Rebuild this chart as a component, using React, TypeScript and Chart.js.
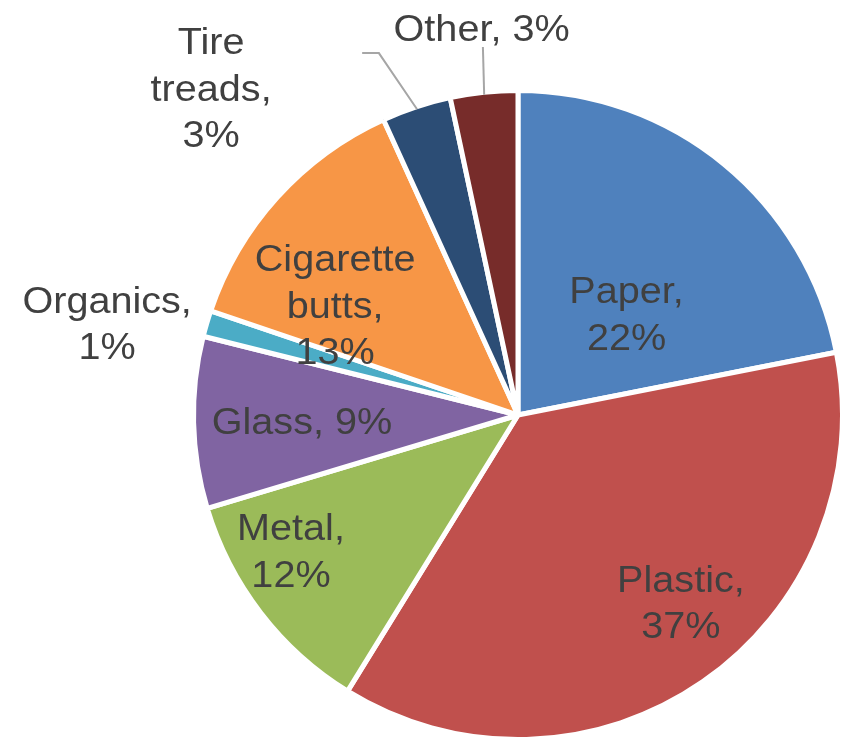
import { useEffect, useRef } from "react";
import { Chart, registerables } from "chart.js";

Chart.register(...registerables);

// ---- data ----
const categories = ["Paper", "Plastic", "Metal", "Glass", "Organics", "Cigarette butts", "Tire treads", "Other"];
const shares = [21.9, 36.9, 11.55, 8.55, 1.3, 13.0, 3.45, 3.35];
const sliceColors = ["#4F81BD", "#C0504D", "#9BBB59", "#8064A2", "#4BACC6", "#F79646", "#2C4D75", "#772C2A"];

// ---- label layout (style): offsets in units of the pie radius, from the pie centre ----
type LabelLayout = {
  dx: number;
  dy: number;
  wrap: "one" | "two" | "words";
  leader?: [number, number][];
};
const labelLayouts: LabelLayout[] = [
  { dx: 0.337, dy: -0.315, wrap: "two" },
  { dx: 0.506, dy: 0.581, wrap: "two" },
  { dx: -0.705, dy: 0.421, wrap: "two" },
  { dx: -0.671, dy: 0.019, wrap: "one" },
  { dx: -1.276, dy: -0.286, wrap: "two" },
  { dx: -0.568, dy: -0.342, wrap: "words" },
  { dx: -0.953, dy: -1.016, wrap: "words", leader: [[-0.484, -1.124], [-0.432, -1.124]] },
  { dx: -0.113, dy: -1.203, wrap: "one", leader: [[-0.109, -1.143]] },
];

const BORDER = 5;
const FONT_SIZE = 36;
const LINE_H = 46.5;
const X_STRETCH = 1.1;

function buildLines(name: string, pct: number, wrap: LabelLayout["wrap"]): string[] {
  const p = `${pct}%`;
  if (wrap === "one") return [`${name}, ${p}`];
  if (wrap === "two") return [`${name},`, p];
  const words = name.split(" ");
  words[words.length - 1] = words[words.length - 1] + ",";
  return [...words, p];
}

const sliceLabelPlugin = {
  id: "sliceLabels",
  afterDatasetsDraw(chart: any) {
    const meta = chart.getDatasetMeta(0);
    const ctx: CanvasRenderingContext2D = chart.ctx;
    const values: number[] = chart.data.datasets[0].data;
    const total = values.reduce((a, b) => a + b, 0);
    meta.data.forEach((arc: any, i: number) => {
      const { x, y, outerRadius, startAngle, endAngle } = arc.getProps(
        ["x", "y", "outerRadius", "startAngle", "endAngle"],
        true
      );
      const r = outerRadius - BORDER / 2;
      const lay = labelLayouts[i];
      // leader line
      if (lay.leader) {
        const mid = (startAngle + endAngle) / 2;
        ctx.save();
        ctx.strokeStyle = "#A6A6A6";
        ctx.lineWidth = 2;
        ctx.beginPath();
        lay.leader.forEach(([px, py], k) => {
          const X = x + px * r;
          const Y = y + py * r;
          if (k === 0) ctx.moveTo(X, Y);
          else ctx.lineTo(X, Y);
        });
        ctx.lineTo(x + Math.cos(mid) * r, y + Math.sin(mid) * r);
        ctx.stroke();
        ctx.restore();
      }
      const pct = Math.round((values[i] * 100) / total);
      const lines = buildLines(categories[i], pct, lay.wrap);
      const cx = x + lay.dx * r;
      const cy = y + lay.dy * r;
      ctx.save();
      ctx.font = `${FONT_SIZE}px "Liberation Sans", Arial, sans-serif`;
      ctx.fillStyle = "#404040";
      ctx.textAlign = "center";
      ctx.textBaseline = "alphabetic";
      const capHalf = FONT_SIZE * 0.716 / 2;
      lines.forEach((ln, k) => {
        const ly = cy + (k - (lines.length - 1) / 2) * LINE_H + capHalf;
        ctx.save();
        ctx.translate(cx, ly);
        ctx.scale(X_STRETCH, 1);
        ctx.fillText(ln, 0, 0);
        ctx.restore();
      });
      ctx.restore();
    });
  },
};

export default function App() {
  const canvasRef = useRef<HTMLCanvasElement | null>(null);

  useEffect(() => {
    if (!canvasRef.current) return;
    const chart = new Chart(canvasRef.current, {
      type: "pie",
      data: {
        labels: categories,
        datasets: [
          {
            data: shares,
            backgroundColor: sliceColors,
            borderColor: "#FFFFFF",
            borderWidth: BORDER,
            radius: 322 + BORDER / 2,
            clip: false,
          } as any,
        ],
      },
      options: {
        responsive: false,
        animation: false,
        layout: { padding: { left: 190, right: 0, top: 92, bottom: 0 } },
        plugins: {
          legend: { display: false },
          tooltip: { enabled: false },
        },
      },
      plugins: [sliceLabelPlugin],
    });
    return () => chart.destroy();
  }, []);

  return (
    <div style={{ position: "absolute", left: 0, top: 0, width: 846, height: 738, background: "#FFFFFF" }}>
      <canvas ref={canvasRef} width={846} height={738} style={{ width: 846, height: 738, display: "block" }} />
    </div>
  );
}
